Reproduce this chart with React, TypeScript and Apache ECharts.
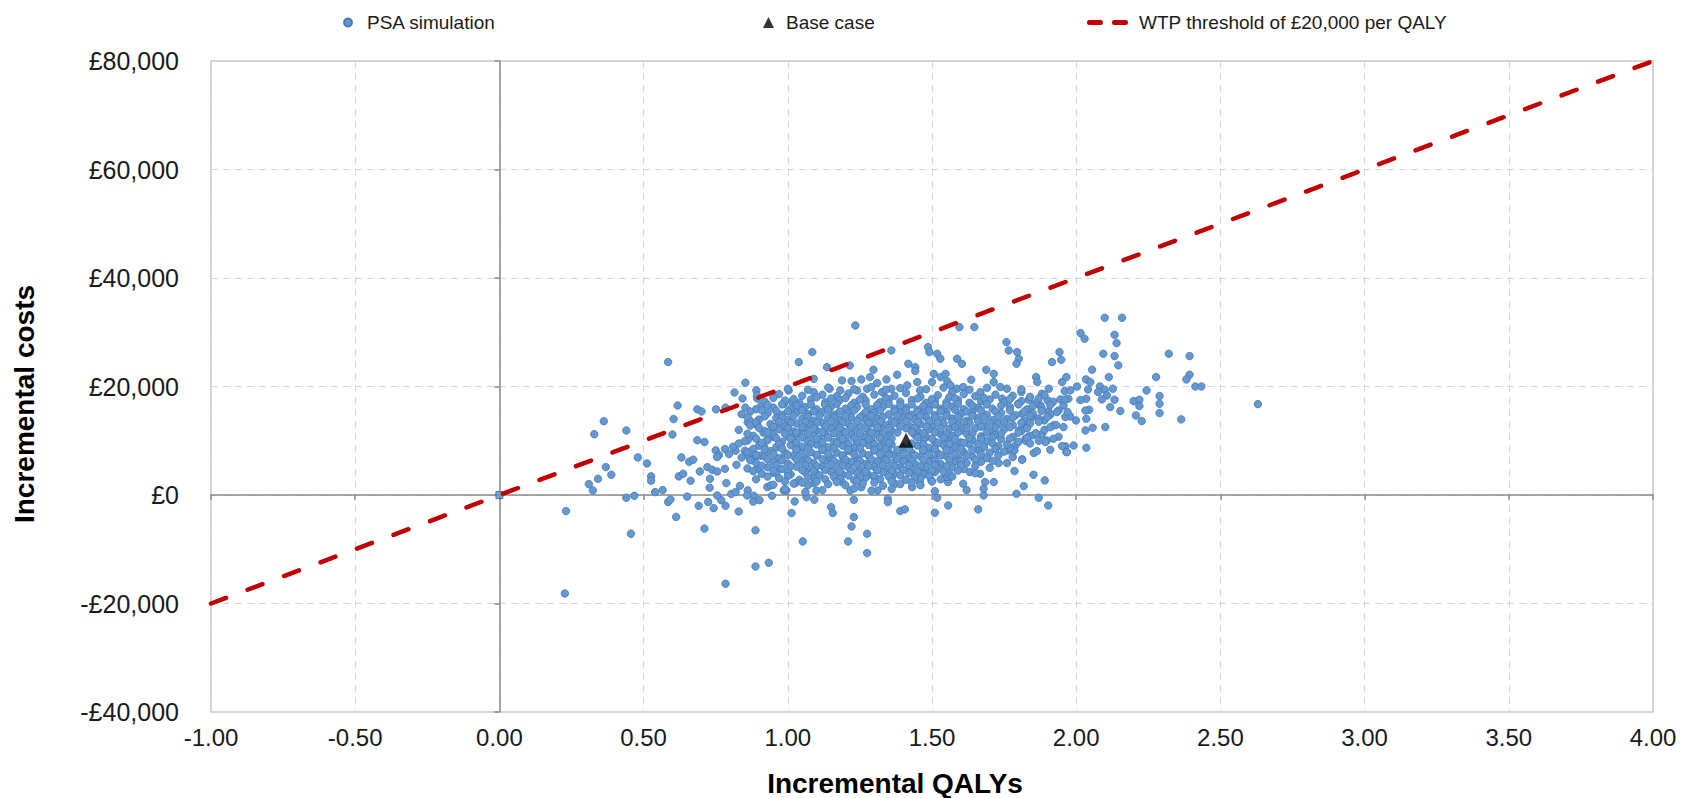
import React, { useEffect, useRef } from "react";
import * as echarts from "echarts";

// ---------- data ----------
const xTicks = { min: -1, max: 4, interval: 0.5 };
const yTicks = { min: -40000, max: 80000, interval: 20000 };
const wtpThreshold = 20000;
const wtpQalys = [-1, 0, 4];
const baseCase: [number, number] = [1.41, 10100];
const originPoint: [number, number] = [0, 0];

// PSA simulation points [incremental QALYs, incremental costs]
const psaOuter: [number, number][] = [
  [0.585,24500],[0.853,20700],[0.815,18900],[0.891,19300],[0.843,17800],[0.894,17800],[0.853,16100],[0.908,16500],
  [0.618,16500],[0.686,15800],[0.701,15400],[0.751,15800],[0.784,16100],[0.604,14000],[0.861,13400],[0.868,13750],
  [0.894,12900],[0.362,13600],[0.329,11200],[0.440,11900],[0.600,11150],[0.686,10100],[0.711,9760],[0.861,10060],
  [0.915,11500],[0.947,12500],[0.963,12500],[0.929,10200],[0.952,10700],[0.918,8840],[0.963,8840],[0.480,6930],
  [0.512,5820],[0.526,3430],[0.526,2630],[0.369,5140],[0.388,3730],[0.342,2990],[0.310,2010],[0.324,850],
  [0.540,540],[0.566,910],[0.440,-510],[0.468,-140],[0.631,6930],[0.658,6140],[0.672,6510],[0.622,3430],
  [0.637,3920],[0.663,2630],[0.695,4340],[0.721,5140],[0.738,4650],[0.755,4340],[0.782,4830],[0.730,2990],
  [0.750,8230],[0.761,7370],[0.782,8480],[0.796,7550],[0.819,8170],[0.851,8170],[0.865,7120],[0.882,6630],
  [0.905,7250],[0.822,5580],[0.894,4830],[0.952,4090],[0.787,2200],[0.834,1700],[0.861,850],[0.929,1460],
  [0.941,1770],[0.729,1340],[0.804,180],[0.882,-130],[0.945,-130],[0.585,-1270],[0.593,-840],[0.651,-290],
  [0.691,-1990],[0.724,-1270],[0.743,-2420],[0.769,-950],[0.784,-1990],[0.830,-3030],[0.880,-1210],[0.902,-950],
  [0.613,-4040],[0.711,-6190],[0.888,-6500],[0.231,-2960],[0.456,-7140],[0.227,-18150],[0.888,-13170],[0.934,-12490],
  [0.784,-16360],[0.893,18340],[0.986,16800],[0.755,7010],[0.755,-80],[0.859,-80],[0.819,540],
];

const psaUpper: [number, number][] = [
  [1.234,31260],[1.085,26340],[1.038,24500],[1.136,23570],[1.215,23880],[1.359,26650],[1.486,27260],[1.491,26340],
  [1.595,30950],[1.647,30950],[1.518,26030],[1.529,25110],[1.418,24190],[1.442,23570],[1.442,22840],[1.587,25110],
  [1.604,24190],[1.758,28180],[1.766,26650],[1.795,26340],[1.801,25110],[1.793,24190],[1.688,23080],[1.297,23080],
  [1.090,21420],[1.090,18960],[1.003,19270],[1.145,19580],[1.188,21120],[1.221,21000],[1.255,21310],[1.285,21740],
  [1.310,20640],[1.342,21310],[1.379,22170],[1.359,19590],[1.327,18970],[1.414,20210],[1.449,20820],[1.459,19280],
  [1.500,20820],[1.506,22330],[1.530,21740],[1.553,20940],[1.547,22330],[1.564,20210],[1.587,19590],[1.570,18970],
  [1.608,19900],[1.636,21250],[1.668,18970],[1.691,19770],[1.714,20820],[1.714,22330],[1.737,19900],[1.743,17760],
  [1.182,19270],[1.240,19270],[1.275,19580],[1.027,16500],[0.986,16830],[1.015,17140],
];

const psaRight: [number, number][] = [
  [2.099,32670],[2.159,32670],[2.015,29840],[2.029,28800],[2.133,29530],[2.140,28000],[2.094,26040],[2.133,25610],
  [2.146,23900],[2.055,23090],[2.113,21740],[2.321,26040],[2.393,25610],[2.393,22170],[2.382,21310],[2.277,21740],
  [2.413,20010],[2.434,20010],[2.244,19280],[2.199,17310],[2.219,17560],[2.219,16400],[2.289,18240],[2.289,16830],
  [2.289,15100],[2.207,14670],[2.227,13630],[2.364,13940],[2.153,15480],[2.133,17560],[2.118,16210],[2.101,12520],
  [2.034,21310],[2.049,20820],[2.082,20010],[2.099,19400],[2.127,19590],[2.107,18360],[2.089,17620],[2.076,18980],
  [2.041,19460],[2.035,17740],[2.015,17500],[2.045,15710],[2.032,15590],[2.035,14060],[2.057,12400],[2.032,11910],
  [2.003,20010],[1.999,13750],[1.979,14490],[1.962,14370],[1.973,17740],[1.956,16520],[1.939,15590],[1.945,17620],
  [1.960,19160],[1.951,20820],[1.966,21740],[1.942,26340],[1.916,24500],[1.948,24930],[1.963,8960],[1.991,9140],
  [2.035,8710],[1.939,10750],[1.956,12520],[1.921,12830],[1.890,13750],[1.904,15410],[1.933,15290],[1.861,21740],
  [1.865,20820],[1.905,19590],[1.881,18670],[1.901,17440],[1.876,16520],[1.810,18980],[1.835,17560],[1.799,16830],
  [1.812,14990],[1.847,14370],[1.824,12830],[1.801,11910],[1.836,10810],[1.881,11170],[1.898,10060],[1.921,10380],
  [1.789,9140],[1.824,10380],[2.630,16750],[1.966,7920],
];

const psaLower: [number, number][] = [
  [1.024,-1180],[1.013,-3330],[1.052,-8550],[1.150,-2230],[1.156,-3330],[1.229,-880],[1.229,-4070],[1.221,-5790],
  [1.275,-7140],[1.209,-8550],[1.275,-10700],[1.347,-690],[1.347,-1310],[1.390,-2960],[1.406,-2650],[1.510,-3270],
  [1.518,-510],[1.556,-1920],[1.660,-2650],[1.679,-70],[0.986,840],[0.995,840],[1.065,-390],[1.092,-880],
  [1.099,840],[1.090,2190],[1.061,540],[1.026,2190],[1.217,840],[1.255,1450],[1.311,840],[1.302,3120],
  [1.373,2070],[1.431,1450],[1.498,2680],[1.555,2380],[1.550,3300],[1.608,2070],[1.631,4220],[1.667,3920],
  [1.684,2380],[1.679,1150],[1.714,2380],[1.731,5880],[1.165,3120],[1.188,2380],[1.472,4220],[1.458,2380],
  [1.793,240],[1.870,-510],[1.903,-1920],[1.818,1640],[1.786,4410],[1.852,3730],[1.891,2690],[1.813,6560],
  [1.853,7730],[1.864,8090],[1.910,8340],[1.968,7910],[1.951,9020],[1.826,9940],[1.893,9750],[1.764,8220],
  [1.786,8220],[1.812,6510],
];

const psaCore: [number, number][] = [
  [0.97,18600],[1.05,18300],[1.12,18500],[1.17,18200],[1.21,18700],[1.26,18100],[1.30,18500],[1.37,18300],[1.41,18800],
  [1.46,18100],[1.52,18400],[1.56,18000],[1.61,18600],[1.65,18200],[1.72,18500],[1.78,18300],[1.84,18100],[1.89,18400],
  [0.92,17200],[0.99,17400],[1.04,17000],[1.08,17600],[1.13,17100],[1.18,17500],[1.23,17000],[1.27,17400],[1.32,17100],
  [1.35,17600],[1.39,17200],[1.43,17500],[1.48,17000],[1.51,17400],[1.55,17100],[1.59,17500],[1.63,17000],[1.67,17300],
  [1.70,17600],[1.75,17100],[1.81,17300],[1.86,17000],[1.92,17200],
  [0.89,15800],[0.95,16100],[1.01,15900],[1.06,16200],[1.10,15800],[1.15,16300],[1.20,15900],[1.24,16200],[1.29,15800],
  [1.33,16300],[1.37,15900],[1.41,16100],[1.45,15700],[1.49,16200],[1.53,15900],[1.57,16300],[1.61,15800],[1.66,16100],
  [1.71,15900],[1.77,16200],[1.83,15800],[1.88,16100],
  [0.84,14900],[0.93,15100],[0.98,14800],[1.03,15200],[1.07,14900],[1.12,15300],[1.16,14800],[1.21,15100],[1.26,14700],
  [1.30,15200],[1.35,14900],[1.39,15300],[1.43,14800],[1.47,15100],[1.51,14700],[1.55,15200],[1.60,14900],[1.64,15300],
  [1.69,14800],[1.74,15100],[1.79,14700],[1.85,15000],[1.91,14800],
  [0.90,13900],[0.96,14200],[1.00,13800],[1.05,14100],[1.09,13700],[1.14,14200],[1.18,13900],[1.22,14300],[1.27,13800],
  [1.31,14100],[1.36,13700],[1.40,14200],[1.44,13900],[1.48,14300],[1.53,13800],[1.57,14100],[1.62,13700],[1.66,14200],
  [1.71,13800],[1.76,14000],[1.82,13700],[1.87,14100],
  [0.87,12800],[0.94,13100],[0.99,12700],[1.03,13200],[1.08,12900],[1.12,13300],[1.17,12800],[1.21,13100],[1.25,12700],
  [1.29,13200],[1.34,12900],[1.38,13300],[1.42,12800],[1.46,13100],[1.50,12700],[1.54,13200],[1.59,12900],[1.63,13300],
  [1.68,12800],[1.73,13100],[1.78,12900],[1.84,13200],[1.93,12900],
  [0.83,12000],[0.92,11800],[0.97,12100],[1.02,11700],[1.06,12200],[1.10,11900],[1.15,12300],[1.19,11800],[1.23,12100],
  [1.28,11700],[1.32,12200],[1.36,11900],[1.41,12300],[1.45,11800],[1.49,12100],[1.52,11700],[1.56,12200],[1.61,11900],
  [1.65,12300],[1.70,11800],[1.75,12100],[1.81,11800],[1.89,12000],
  [0.88,10900],[0.95,11100],[1.00,10800],[1.04,11200],[1.09,10900],[1.13,11300],[1.18,10800],[1.22,11100],[1.26,10700],
  [1.31,11200],[1.35,10900],[1.44,11100],[1.48,10700],[1.53,11200],[1.57,10900],[1.62,11300],[1.67,10800],[1.72,11100],
  [1.78,10700],[1.85,11000],
  [0.85,9900],[0.93,10100],[0.98,9800],[1.02,10200],[1.07,9900],[1.11,10300],[1.16,9800],[1.20,10100],[1.24,9700],
  [1.29,10200],[1.33,9900],[1.47,10200],[1.51,9800],[1.55,10100],[1.60,9700],[1.64,10200],[1.69,9900],[1.74,10300],
  [1.80,9800],[1.87,10000],
  [0.81,8900],[0.90,9100],[0.96,8800],[1.01,9200],[1.05,8900],[1.10,9300],[1.14,8800],[1.19,9100],[1.23,8700],
  [1.28,9200],[1.32,8900],[1.36,9300],[1.40,8800],[1.45,9100],[1.49,8700],[1.54,9200],[1.58,8900],[1.63,9300],
  [1.68,8800],[1.73,9000],[1.77,8700],
  [0.86,7900],[0.94,8100],[0.99,7800],[1.03,8200],[1.08,7900],[1.12,8300],[1.17,7800],[1.21,8100],[1.26,7700],
  [1.30,8200],[1.35,7900],[1.39,8300],[1.43,7800],[1.47,8100],[1.52,7700],[1.56,8200],[1.61,7900],[1.66,8300],
  [1.70,7800],[1.75,8000],
  [0.84,6900],[0.92,7100],[0.97,6800],[1.02,7200],[1.06,6900],[1.10,7300],[1.15,6800],[1.19,7100],[1.24,6700],
  [1.28,7200],[1.33,6900],[1.37,7300],[1.42,6800],[1.46,7100],[1.50,6700],[1.55,7200],[1.59,6900],[1.64,7100],
  [1.69,6800],[1.78,7000],
  [0.89,5900],[0.95,6100],[1.00,5800],[1.05,6200],[1.09,5900],[1.13,6300],[1.18,5800],[1.22,6100],[1.27,5700],
  [1.31,6200],[1.36,5900],[1.40,6300],[1.44,5800],[1.49,6100],[1.53,5700],[1.58,6200],[1.62,5900],[1.67,6100],
  [1.76,5900],
  [0.86,4900],[0.93,5100],[0.98,4800],[1.03,5200],[1.07,4900],[1.12,5300],[1.16,4800],[1.21,5100],[1.25,4700],
  [1.30,5200],[1.34,4900],[1.39,5100],[1.43,4700],[1.48,5200],[1.52,4900],[1.57,5100],[1.61,4800],[1.70,5000],
  [0.91,3900],[0.96,4100],[1.01,3800],[1.06,4200],[1.10,3900],[1.15,4300],[1.19,3800],[1.24,4100],[1.28,3700],
  [1.33,4200],[1.37,3900],[1.42,4100],[1.47,3800],[1.51,4200],[1.56,3900],[1.65,4000],
  [0.89,2900],[0.97,3100],[1.04,2800],[1.09,3200],[1.13,2900],[1.18,3100],[1.23,2700],[1.27,3200],[1.32,2900],
  [1.36,3100],[1.41,2800],[1.46,3100],[1.53,2900],
  [0.95,1900],[1.02,2100],[1.07,1800],[1.14,2000],[1.20,1800],[1.26,2100],[1.33,1700],[1.39,2000],[1.46,1800],
  [0.99,1100],[1.12,900],[1.23,1200],[1.29,800],[1.36,1100],[1.51,700],[1.62,900],
];

const psaCoreFill: [number, number][] = [
  [1.00,19600],[1.07,19400],[1.14,19800],[1.23,19500],[1.29,19900],[1.34,19400],[1.39,19700],[1.48,19500],[1.54,19800],
  [1.63,19400],[1.76,19600],[1.81,19500],[1.98,19300],
  [0.95,17900],[1.02,17700],[1.10,18000],[1.15,17800],[1.20,17900],[1.25,17600],[1.34,17900],[1.45,17800],[1.50,17700],
  [1.58,17800],[1.68,17900],[1.77,17700],[1.87,17800],[1.96,17600],
  [0.93,16600],[0.98,16700],[1.03,16500],[1.08,16700],[1.13,16600],[1.17,16800],[1.22,16500],[1.27,16700],[1.31,16600],
  [1.35,16800],[1.39,16500],[1.43,16700],[1.47,16400],[1.51,16700],[1.55,16600],[1.59,16800],[1.64,16500],[1.69,16700],
  [1.74,16500],[1.80,16700],[1.85,16400],[1.91,16600],
  [0.87,15400],[0.91,15600],[0.96,15500],[1.00,15400],[1.05,15600],[1.09,15400],[1.14,15700],[1.18,15400],[1.23,15600],
  [1.27,15300],[1.32,15600],[1.37,15400],[1.41,15600],[1.45,15300],[1.49,15600],[1.53,15400],[1.58,15700],[1.62,15400],
  [1.67,15600],[1.72,15400],[1.77,15600],[1.82,15400],[1.88,15500],[1.97,15300],
  [0.86,14400],[0.92,14500],[0.98,14300],[1.02,14600],[1.07,14400],[1.11,14600],[1.16,14300],[1.20,14500],[1.25,14300],
  [1.29,14600],[1.33,14400],[1.38,14600],[1.42,14400],[1.46,14600],[1.51,14300],[1.55,14600],[1.59,14400],[1.64,14600],
  [1.68,14300],[1.73,14500],[1.78,14300],[1.84,14600],[1.90,14400],
  [0.89,13400],[0.97,13500],[1.01,13300],[1.06,13500],[1.10,13300],[1.15,13600],[1.19,13400],[1.24,13600],[1.28,13300],
  [1.32,13500],[1.37,13300],[1.41,13600],[1.45,13400],[1.49,13600],[1.52,13300],[1.57,13500],[1.61,13400],[1.66,13600],
  [1.70,13300],[1.75,13500],[1.81,13300],[1.87,13500],
  [0.90,12400],[0.95,12600],[1.00,12300],[1.05,12500],[1.09,12300],[1.13,12600],[1.18,12400],[1.22,12600],[1.27,12300],
  [1.31,12500],[1.35,12300],[1.39,12600],[1.44,12400],[1.48,12600],[1.53,12300],[1.58,12500],[1.62,12300],[1.67,12600],
  [1.72,12400],[1.77,12500],[1.83,12300],[1.91,12500],
  [0.86,11300],[0.93,11500],[0.99,11300],[1.03,11500],[1.07,11300],[1.12,11600],[1.16,11400],[1.20,11600],[1.25,11300],
  [1.29,11500],[1.33,11300],[1.38,11500],[1.43,11600],[1.47,11400],[1.51,11600],[1.55,11300],[1.59,11500],[1.64,11300],
  [1.69,11500],[1.74,11300],[1.80,11500],[1.86,11400],
  [0.89,10400],[0.96,10500],[1.01,10400],[1.05,10600],[1.10,10400],[1.14,10600],[1.19,10300],[1.23,10500],[1.28,10300],
  [1.32,10500],[1.36,10400],[1.45,10600],[1.50,10400],[1.54,10600],[1.58,10300],[1.63,10500],[1.67,10300],[1.71,10600],
  [1.77,10400],[1.83,10500],
  [0.83,9500],[0.91,9600],[0.97,9400],[1.03,9600],[1.08,9400],[1.12,9700],[1.17,9500],[1.21,9400],[1.26,9600],
  [1.30,9400],[1.35,9600],[1.43,9500],[1.47,9400],[1.52,9600],[1.56,9400],[1.61,9600],[1.66,9400],[1.71,9500],
  [1.76,9300],[1.84,9500],
  [0.88,8500],[0.92,8400],[0.98,8600],[1.03,8400],[1.07,8600],[1.12,8400],[1.16,8600],[1.21,8400],[1.25,8600],
  [1.30,8300],[1.34,8500],[1.38,8300],[1.42,8500],[1.47,8300],[1.51,8500],[1.55,8300],[1.60,8500],[1.64,8300],[1.72,8500],
  [0.89,7400],[0.95,7600],[1.00,7400],[1.05,7600],[1.10,7400],[1.14,7600],[1.19,7300],[1.23,7500],[1.28,7300],
  [1.32,7500],[1.35,7400],[1.40,7500],[1.44,7300],[1.49,7500],[1.53,7300],[1.58,7500],[1.62,7300],[1.67,7500],[1.73,7300],
  [0.87,6400],[0.93,6600],[0.98,6400],[1.03,6600],[1.07,6400],[1.12,6600],[1.16,6300],[1.20,6500],[1.25,6300],
  [1.29,6600],[1.34,6400],[1.38,6600],[1.43,6300],[1.47,6500],[1.51,6300],[1.56,6500],[1.60,6300],[1.65,6500],[1.71,6300],
  [0.91,5400],[0.96,5500],[1.01,5300],[1.06,5500],[1.10,5300],[1.15,5600],[1.19,5400],[1.24,5600],[1.28,5300],
  [1.33,5500],[1.37,5300],[1.42,5500],[1.46,5300],[1.51,5500],[1.55,5300],[1.60,5500],[1.65,5300],
  [0.88,4400],[0.95,4500],[1.00,4300],[1.05,4600],[1.09,4400],[1.13,4600],[1.18,4300],[1.22,4500],[1.27,4300],
  [1.31,4600],[1.36,4400],[1.40,4600],[1.45,4300],[1.50,4500],[1.54,4300],[1.59,4500],
  [0.93,3400],[1.00,3500],[1.07,3300],[1.11,3600],[1.16,3400],[1.21,3600],[1.25,3300],[1.30,3500],[1.35,3400],
  [1.39,3600],[1.44,3300],[1.49,3500],[1.57,3400],
  [0.99,2500],[1.05,2300],[1.10,2500],[1.17,2400],[1.24,2600],[1.30,2300],[1.36,2500],[1.43,2300],[1.50,2500],
];

const legendNames = ["PSA simulation", "Base case", "WTP threshold of £20,000 per QALY"];
const axisTitles = { x: "Incremental QALYs", y: "Incremental costs" };

// ---------- styles ----------
const FONT = "'Liberation Sans', Arial, sans-serif";
const TEXT = "#1a1a1a";
const DASH_ICON =
  "path://M2.5,0 L13.5,0 A2.5,2.5 0 0 1 13.5,5 L2.5,5 A2.5,2.5 0 0 1 2.5,0 Z M27.5,0 L38.5,0 A2.5,2.5 0 0 1 38.5,5 L27.5,5 A2.5,2.5 0 0 1 27.5,0 Z";

const fmtMoney = (v: number) => {
  const s = Math.abs(v).toString().replace(/\B(?=(\d{3})+(?!\d))/g, ",");
  return (v < 0 ? "-" : "") + "£" + s;
};

export default function App() {
  const ref = useRef<HTMLDivElement>(null);
  useEffect(() => {
    if (!ref.current) return;
    const chart = echarts.init(ref.current, undefined, { renderer: "svg" });
    const psaAll = [...psaOuter, ...psaUpper, ...psaRight, ...psaLower, ...psaCore, ...psaCoreFill];
    const wtpData = wtpQalys.map((q) => [q, q * wtpThreshold]);
    const gridLine = { show: true, lineStyle: { color: "#d6d6d6", type: [7, 5] as any, width: 1 } };
    const legendText = { fontSize: 19, color: TEXT, fontFamily: FONT };
    chart.setOption({
      animation: false,
      backgroundColor: "#ffffff",
      textStyle: { fontFamily: FONT },
      grid: { left: 211, right: 33, top: 61, bottom: 86, show: true, borderColor: "#c8c8c8", borderWidth: 1.5 },
      legend: [
        {
          data: [{ name: legendNames[0], icon: "circle" }],
          left: 338, top: 8, itemWidth: 8, itemHeight: 8,
          textStyle: { ...legendText, padding: [0, 0, 0, 10] },
          selectedMode: false,
        },
        {
          data: [{ name: legendNames[1], icon: "triangle" }],
          left: 758, top: 8, itemWidth: 11, itemHeight: 11,
          textStyle: { ...legendText, padding: [0, 0, 0, 7] },
          selectedMode: false,
        },
        {
          data: [{ name: legendNames[2], icon: DASH_ICON }],
          left: 1082, top: 8, itemWidth: 41, itemHeight: 5,
          textStyle: { ...legendText, padding: [0, 0, 0, 6] },
          selectedMode: false,
        },
      ],
      xAxis: [
        {
          type: "value", position: "bottom", min: xTicks.min, max: xTicks.max, interval: xTicks.interval,
          axisLine: { show: false, onZero: false }, axisTick: { show: false },
          axisLabel: { formatter: (v: number) => v.toFixed(2), fontSize: 24, color: TEXT, margin: 13, fontFamily: FONT },
          splitLine: gridLine,
        },
        {
          type: "value", position: "top", min: xTicks.min, max: xTicks.max, interval: xTicks.interval,
          axisLine: { show: true, onZero: true, lineStyle: { color: "#8a8a8a", width: 1.5 } },
          axisTick: { show: true, inside: true, length: 5, lineStyle: { color: "#8a8a8a", width: 1.5 } },
          axisLabel: { show: false }, splitLine: { show: false },
        },
      ],
      yAxis: [
        {
          type: "value", position: "left", min: yTicks.min, max: yTicks.max, interval: yTicks.interval,
          axisLine: { show: false, onZero: false }, axisTick: { show: false },
          axisLabel: { formatter: fmtMoney, fontSize: 25, color: TEXT, margin: 32, fontFamily: FONT },
          splitLine: gridLine,
        },
        {
          type: "value", position: "right", min: yTicks.min, max: yTicks.max, interval: yTicks.interval,
          axisLine: { show: true, onZero: true, lineStyle: { color: "#8a8a8a", width: 1.5 } },
          axisTick: { show: true, inside: true, length: 5, lineStyle: { color: "#8a8a8a", width: 1.5 } },
          axisLabel: { show: false }, splitLine: { show: false },
        },
      ],
      graphic: [
        {
          type: "text", x: 895, y: 783,
          style: { text: axisTitles.x, font: `bold 28px ${FONT}`, fill: "#000", align: "center", verticalAlign: "middle" },
        },
        {
          type: "text", x: 24, y: 404, rotation: Math.PI / 2,
          style: { text: axisTitles.y, font: `bold 28px ${FONT}`, fill: "#000", align: "center", verticalAlign: "middle" },
        },
      ],
      series: [
        {
          name: legendNames[0], type: "scatter", xAxisIndex: 0, yAxisIndex: 0,
          data: psaAll, symbol: "circle", symbolSize: 7.5,
          itemStyle: { color: "#6398d0", borderColor: "#4679b3", borderWidth: 0.8, opacity: 1 },
          z: 2,
        },
        {
          name: "origin", type: "scatter", xAxisIndex: 0, yAxisIndex: 0,
          data: [originPoint], symbol: "rect", symbolSize: 7,
          itemStyle: { color: "#5b9bd5", borderColor: "#2e5f91", borderWidth: 1 },
          z: 2,
        },
        {
          name: legendNames[2], type: "line", xAxisIndex: 0, yAxisIndex: 0,
          data: wtpData, symbol: "none", showSymbol: false,
          lineStyle: { color: "#c00000", width: 4.5, type: [16, 23], cap: "round" },
          itemStyle: { color: "#c00000" },
          z: 3,
        },
        {
          name: legendNames[1], type: "scatter", xAxisIndex: 0, yAxisIndex: 0,
          data: [baseCase], symbol: "triangle", symbolSize: 15,
          itemStyle: { color: "#000000" },
          z: 4,
        },
      ],
    });
    return () => chart.dispose();
  }, []);
  return <div ref={ref} style={{ width: 1686, height: 798, position: "absolute", left: 0, top: 0 }} />;
}
